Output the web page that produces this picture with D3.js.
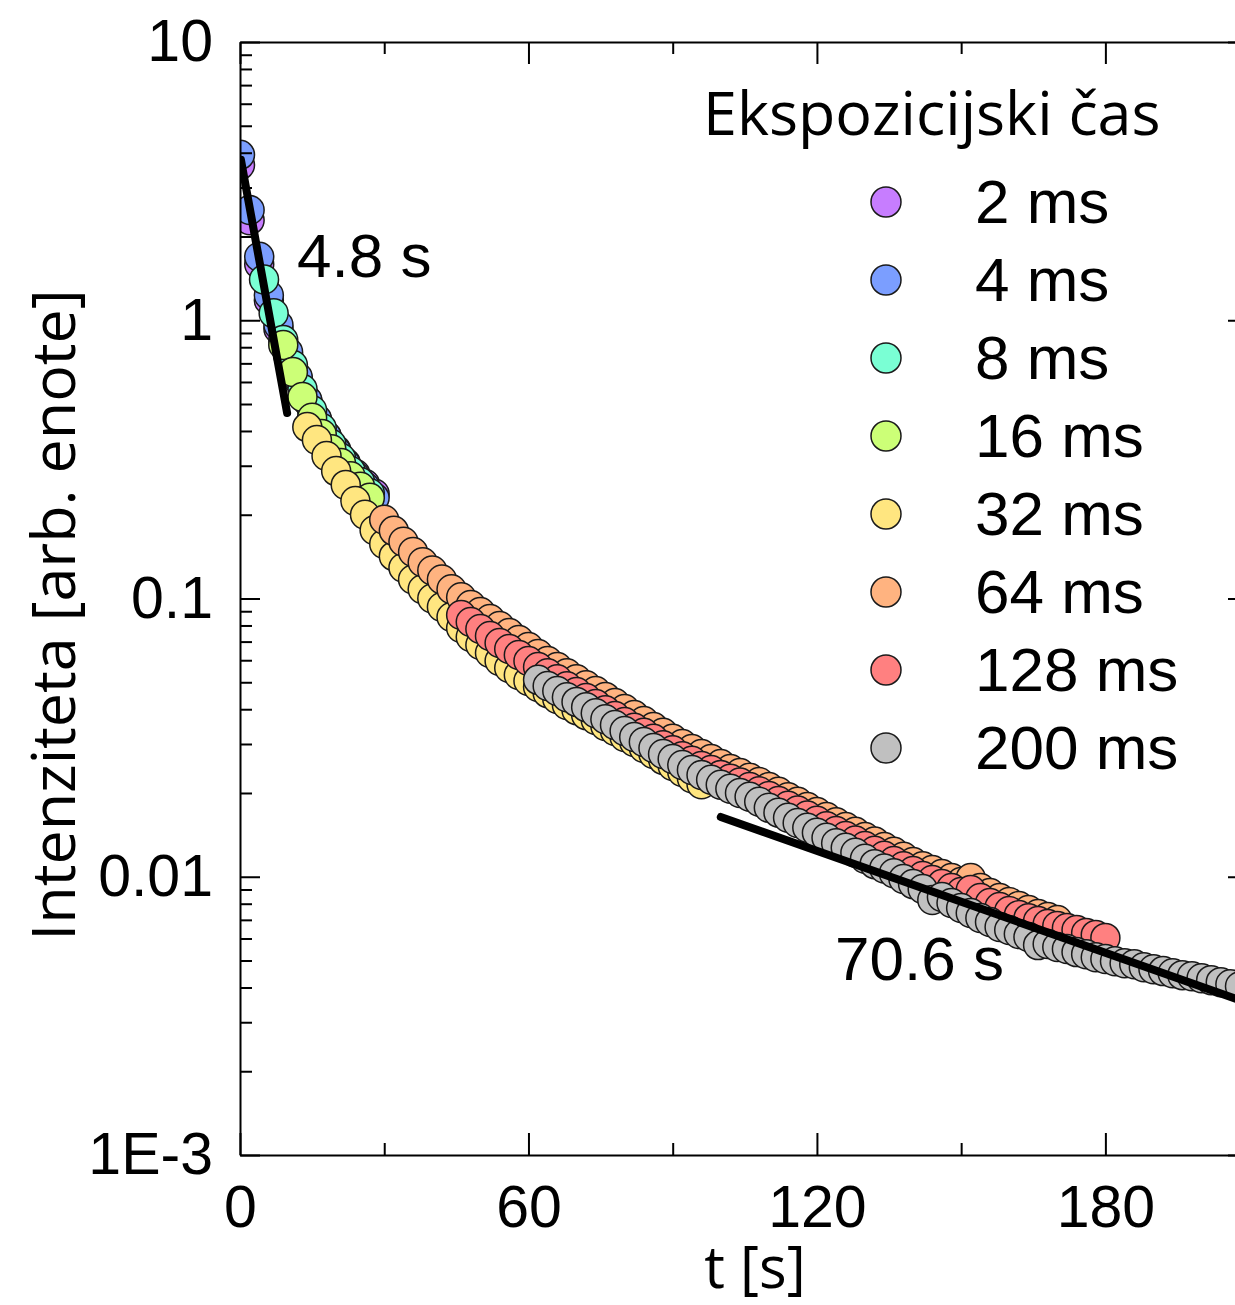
<!DOCTYPE html>
<html>
<head>
<meta charset="utf-8">
<script src="https://cdn.jsdelivr.net/npm/d3@7"></script>
<style>
    body { margin: 0; background: #fff; }
    .axis .domain, .axis line { stroke: #000; stroke-width: 2; }
    .axis text { font-family: 'Liberation Sans', Arial, sans-serif; font-size: 59px; fill: #000; }
</style>
</head>
<body>
<svg id="chart" width="1235" height="1305"></svg>
<script>
// exposure time series: t [s] and intensity [arb. units]
var seriesNames = ['2 ms', '4 ms', '8 ms', '16 ms', '32 ms', '64 ms', '128 ms', '200 ms'];
var seriesColors = ['#c77dff', '#7b9eff', '#7affd4', '#ccff77', '#ffe680', '#ffb380', '#ff8080', '#c0c0c0'];

var t2 = [0, 2, 4, 6, 8, 10, 12, 14, 16, 18, 20, 22, 24, 26, 28];
var i2 = [3.61, 2.29, 1.59, 1.18, 0.93, 0.75, 0.615, 0.513, 0.438, 0.384, 0.342, 0.307, 0.280, 0.258, 0.238];

var t4 = [0, 2, 4, 6, 8, 10, 12, 14, 16, 18, 20, 22, 24, 26, 28];
var i4 = [3.93, 2.49, 1.69, 1.23, 0.962, 0.769, 0.625, 0.516, 0.442, 0.384, 0.339, 0.304, 0.275, 0.252, 0.230];

var t8 = [5, 7, 9, 11, 13, 15, 17, 19, 21, 23, 25, 27];
var i8 = [1.40, 1.06, 0.849, 0.690, 0.566, 0.475, 0.410, 0.359, 0.320, 0.287, 0.262, 0.239];

var t16 = [9, 11, 13, 15, 17, 19, 21, 23, 25, 27];
var i16 = [0.815, 0.652, 0.530, 0.446, 0.390, 0.344, 0.307, 0.275, 0.252, 0.230];

var t32 = [14, 16, 18, 20, 22, 24, 26, 28, 30, 32, 34, 36, 38, 40, 42, 44, 46, 48, 50, 52, 54,
    56, 58, 60, 62, 64, 66, 68, 70, 72, 74, 76, 78, 80, 82, 84, 86, 88, 90, 92, 94, 96];
var i32 = [0.413, 0.371, 0.325, 0.287, 0.256, 0.224, 0.200, 0.176, 0.157, 0.142, 0.129, 0.117, 0.108, 0.100,
    0.0932, 0.0858, 0.0783, 0.0727, 0.0681, 0.0637, 0.0596, 0.0563, 0.0531, 0.0505, 0.0481, 0.0457, 0.0435,
    0.0414, 0.0397, 0.0381, 0.0366, 0.0348, 0.0334, 0.0318, 0.0305, 0.0290, 0.0276, 0.0263, 0.0250, 0.0238,
    0.0226, 0.0215];

var t64 = [30, 32, 34, 36, 38, 40, 42, 44, 46, 48, 50, 52, 54, 56, 58, 60, 62, 64, 66, 68, 70, 72, 74, 76,
    78, 80, 82, 84, 86, 88, 90, 92, 94, 96, 98, 100, 102, 104, 106, 108, 110, 112, 114, 116, 118, 120, 122,
    124, 126, 128, 130, 132, 134, 136, 138, 140, 142, 144, 146, 148, 150, 152, 154, 156, 158, 160, 162, 164,
    166, 168, 170];
var i64 = [0.192, 0.175, 0.160, 0.147, 0.135, 0.126, 0.117, 0.108, 0.101, 0.0948, 0.0894, 0.0844, 0.0796,
    0.0751, 0.0709, 0.0669, 0.0632, 0.0596, 0.0567, 0.0539, 0.0513, 0.0488, 0.0465, 0.0443, 0.0421, 0.0401,
    0.0381, 0.0363, 0.0345, 0.0329, 0.0313, 0.0300, 0.0288, 0.0276, 0.0265, 0.0254, 0.0244, 0.0236, 0.0227,
    0.0219, 0.0210, 0.0202, 0.0193, 0.0186, 0.0178, 0.0171, 0.0164, 0.0157, 0.0151, 0.0145, 0.0139, 0.0134,
    0.0128, 0.0123, 0.0118, 0.0113, 0.0109, 0.01057, 0.01023, 0.00989, 0.00957, 0.00989, 0.00911, 0.00874,
    0.00839, 0.00811, 0.00785, 0.00759, 0.00734, 0.00716, 0.00699];

var t128 = [46, 48, 50, 52, 54, 56, 58, 60, 62, 64, 66, 68, 70, 72, 74, 76, 78, 80, 82, 84, 86, 88, 90, 92,
    94, 96, 98, 100, 102, 104, 106, 108, 110, 112, 114, 116, 118, 120, 122, 124, 126, 128, 130, 132, 134, 136,
    138, 140, 142, 144, 146, 148, 150, 152, 154, 156, 158, 160, 162, 164, 166, 168, 170, 172, 174, 176, 178, 180];
var i128 = [0.0872, 0.0823, 0.0777, 0.0733, 0.0692, 0.0658, 0.0627, 0.0596, 0.0567, 0.0539, 0.0513, 0.0484,
    0.0461, 0.0439, 0.0418, 0.0397, 0.0378, 0.0360, 0.0343, 0.0329, 0.0313, 0.0297, 0.0285, 0.0271, 0.0261,
    0.0250, 0.0242, 0.0232, 0.0225, 0.0218, 0.0210, 0.0203, 0.0195, 0.0187, 0.0180, 0.0173, 0.0166, 0.0159,
    0.0152, 0.0146, 0.0140, 0.0135, 0.0129, 0.0124, 0.0119, 0.0114, 0.0109, 0.01048, 0.01006, 0.00973,
    0.00941, 0.00911, 0.00881, 0.00896, 0.00839, 0.00805, 0.00779, 0.00753, 0.00728, 0.00710, 0.00693,
    0.00676, 0.00665, 0.00654, 0.00644, 0.00628, 0.00618, 0.00603];

var t200 = [62, 64, 66, 68, 70, 72, 74, 76, 78, 80, 82, 84, 86, 88, 90, 92, 94, 96, 98, 100, 102, 104, 106,
    108, 110, 112, 114, 116, 118, 120, 122, 124, 126, 128, 130, 132, 134, 136, 138, 140, 142, 144, 146, 148,
    150, 152, 154, 156, 158, 160, 162, 164, 166, 168, 170, 172, 174, 176, 178, 180, 182, 184, 186, 188, 190,
    192, 194, 196, 198, 200, 202, 204, 206, 208];
var i200 = [0.0510, 0.0485, 0.0465, 0.0442, 0.0425, 0.0407, 0.0387, 0.0368, 0.0351, 0.0334, 0.0318, 0.0305,
    0.0290, 0.0276, 0.0265, 0.0252, 0.0242, 0.0232, 0.0223, 0.0214, 0.0207, 0.0200, 0.0194, 0.0186, 0.0177,
    0.0170, 0.0163, 0.0156, 0.0150, 0.0144, 0.0138, 0.0132, 0.0127, 0.0122, 0.0116, 0.0111, 0.0107, 0.0103,
    0.00981, 0.00941, 0.00903, 0.00825, 0.00846, 0.00805, 0.00772, 0.00741, 0.00711, 0.00688, 0.00660,
    0.00644, 0.00623, 0.00607, 0.00568, 0.00573, 0.00559, 0.00550, 0.00536, 0.00527, 0.00514, 0.00506,
    0.00497, 0.00489, 0.00485, 0.00473, 0.00465, 0.00458, 0.00450, 0.00443, 0.00439, 0.00432, 0.00425,
    0.00418, 0.00411, 0.00404];

var seriesTimes = [t2, t4, t8, t16, t32, t64, t128, t200];
var seriesValues = [i2, i4, i8, i16, i32, i64, i128, i200];

// exponential fits (end points) and their decay times
var fitTimes = [[0.2, 9.8], [100, 208]];
var fitValues = [[3.77, 0.464], [0.0164, 0.00360]];
var fitLabels = ['4.8 s', '70.6 s'];

// axes
var xMajor = [0, 60, 120, 180];
var xMinor = [30, 90, 150];
var yMajor = [0.001, 0.01, 0.1, 1, 10];
var yMajorLabels = ['1E-3', '0.01', '0.1', '1', '10'];

var plotLeft = 240, plotRight = 1240, plotTop = 42, plotBottom = 1155;

var svg = d3.select('#chart');

var x = d3.scaleLinear().domain([0, 208]).range([plotLeft, plotRight]);
var y = d3.scaleLog().domain([0.001, 10]).range([plotBottom, plotTop]);

var yMinor = [];
yMajor.slice(0, -1).forEach(function (d) {
    for (var k = 2; k <= 9; k++) {
        yMinor.push(d * k);
    }
});

svg.append('defs')
    .append('clipPath')
    .attr('id', 'plotClip')
    .append('rect')
    .attr('x', plotLeft)
    .attr('y', plotTop)
    .attr('width', plotRight - plotLeft)
    .attr('height', plotBottom - plotTop);

var plot = svg.append('g').attr('clip-path', 'url(#plotClip)');

seriesNames.forEach(function (name, i) {
    var points = seriesTimes[i].map(function (t, j) {
        return [t, seriesValues[i][j]];
    });

    plot.append('g')
        .selectAll('circle')
        .data(points)
        .enter()
        .append('circle')
        .attr('cx', function (d) {
            return x(d[0]);
        })
        .attr('cy', function (d) {
            return y(d[1]);
        })
        .attr('r', 14.5)
        .attr('fill', seriesColors[i])
        .attr('stroke', '#1a1a1a')
        .attr('stroke-width', 1.5);
});

var line = d3.line()
    .x(function (d) {
        return x(d[0]);
    })
    .y(function (d) {
        return y(d[1]);
    });

fitTimes.forEach(function (ts, i) {
    plot.append('path')
        .attr('d', line(ts.map(function (t, j) {
            return [t, fitValues[i][j]];
        })))
        .attr('fill', 'none')
        .attr('stroke', '#000')
        .attr('stroke-width', 8)
        .attr('stroke-linecap', 'round');
});

// fit labels
var annotX = [297, 835];
var annotY = [277, 980];
fitLabels.forEach(function (label, i) {
    svg.append('text')
        .attr('x', annotX[i])
        .attr('y', annotY[i])
        .attr('font-family', "'Liberation Sans', Arial, sans-serif")
        .attr('font-size', 62)
        .text(label);
});

// axes: ticks pointing inward
svg.append('g')
    .attr('class', 'axis')
    .attr('transform', 'translate(0,' + plotBottom + ')')
    .call(d3.axisBottom(x).tickValues(xMajor).tickSize(-22).tickSizeOuter(0).tickPadding(30)
        .tickFormat(d3.format('d')));

svg.append('g')
    .attr('class', 'axis')
    .attr('transform', 'translate(0,' + plotBottom + ')')
    .call(d3.axisBottom(x).tickValues(xMinor).tickSize(-12).tickFormat(''))
    .select('.domain').remove();

svg.append('g')
    .attr('class', 'axis')
    .attr('transform', 'translate(0,' + plotTop + ')')
    .call(d3.axisTop(x).tickValues(xMajor).tickSize(-22).tickSizeOuter(0).tickFormat(''));

svg.append('g')
    .attr('class', 'axis')
    .attr('transform', 'translate(0,' + plotTop + ')')
    .call(d3.axisTop(x).tickValues(xMinor).tickSize(-12).tickFormat(''))
    .select('.domain').remove();

svg.append('g')
    .attr('class', 'axis')
    .attr('transform', 'translate(' + plotLeft + ',0)')
    .call(d3.axisLeft(y).tickValues(yMajor).tickSize(-20).tickSizeOuter(0).tickPadding(27)
        .tickFormat(function (d, i) {
            return yMajorLabels[i];
        }));

svg.append('g')
    .attr('class', 'axis')
    .attr('transform', 'translate(' + plotLeft + ',0)')
    .call(d3.axisLeft(y).tickValues(yMinor).tickSize(-12).tickFormat(''))
    .select('.domain').remove();

svg.append('g')
    .attr('class', 'axis')
    .attr('transform', 'translate(' + plotRight + ',0)')
    .call(d3.axisRight(y).tickValues(yMajor).tickSize(-12).tickSizeOuter(0).tickFormat(''));

// axis titles
svg.append('text')
    .attr('x', 755)
    .attr('y', 1288)
    .attr('text-anchor', 'middle')
    .attr('font-family', "'Open Sans', sans-serif")
    .attr('font-size', 58)
    .text('t [s]');

svg.append('text')
    .attr('transform', 'translate(75,615) rotate(-90)')
    .attr('text-anchor', 'middle')
    .attr('font-family', "'Open Sans', sans-serif")
    .attr('font-size', 61)
    .text('Intenziteta [arb. enote]');

// legend
var legend = svg.append('g');

legend.append('text')
    .attr('x', 703)
    .attr('y', 135)
    .attr('font-family', "'Open Sans', sans-serif")
    .attr('font-size', 61)
    .text('Ekspozicijski čas');

var items = legend.selectAll('g.item')
    .data(seriesNames)
    .enter()
    .append('g')
    .attr('class', 'item')
    .attr('transform', function (d, i) {
        return 'translate(886,' + (202 + i * 78) + ')';
    });

items.append('circle')
    .attr('r', 15)
    .attr('fill', function (d, i) {
        return seriesColors[i];
    })
    .attr('stroke', '#1a1a1a')
    .attr('stroke-width', 1.5);

items.append('text')
    .attr('x', 89)
    .attr('y', 21)
    .attr('font-family', "'Liberation Sans', Arial, sans-serif")
    .attr('font-size', 62)
    .text(function (d) {
        return d;
    });
</script>
</body>
</html>
